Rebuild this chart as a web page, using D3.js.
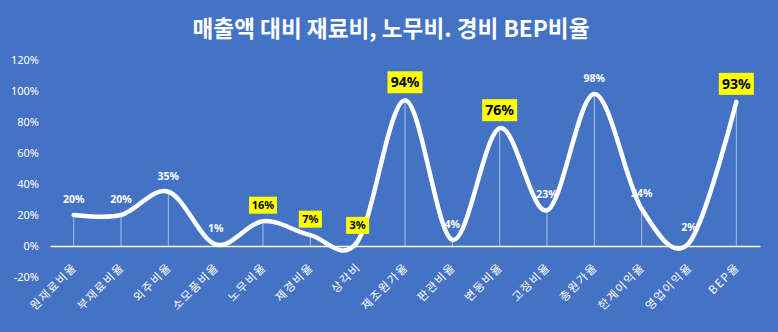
<!DOCTYPE html>
<html><head><meta charset="utf-8">
<script src="https://cdn.jsdelivr.net/npm/d3@7"></script>
<style>html,body{margin:0;padding:0;background:#4472C4;}svg{display:block;}</style>
</head><body>
<svg id="c" width="778" height="332"></svg>
<script>
const title = "매출액 대비 재료비, 노무비. 경비 BEP비율";
const categories = ["원재료비율","부재료비율","외주비율","소모품비율","노무비율","제경비율","상각비","제조원가율","판관비율","변동비율","고정비율","총원가율","한계이익율","영업이익율","BEP율"];
const values = [20, 20, 35, 1, 16, 7, 3, 94, 4, 76, 23, 98, 24, 2, 93];
const yTicks = [-20, 0, 20, 40, 60, 80, 100, 120];
const highlightSmall = ["노무비율","제경비율","상각비"];
const highlightBig = ["제조원가율","변동비율","BEP율"];

const W = 778, H = 332;
const svg = d3.select("#c");
svg.append("rect").attr("width", W).attr("height", H).attr("fill", "#4472C4");

const x = d3.scaleBand().domain(categories).range([50, 760]);
const y = d3.scaleLinear().domain([-20, 120]).range([277, 60]);
const cx = d => x(d) + x.bandwidth() / 2;

svg.append("text").attr("x", 391).attr("y", 37).attr("text-anchor", "middle")
  .attr("font-family", "'Noto Sans CJK KR', sans-serif").attr("font-weight", "bold")
  .attr("font-size", 23).attr("fill", "#fff")
  .attr("textLength", 397).attr("lengthAdjust", "spacingAndGlyphs").text(title);

const yAxis = d3.axisLeft(y).tickValues(yTicks).tickFormat(d => d + "%").tickSize(0).tickPadding(0);
const ya = svg.append("g").attr("transform", "translate(39,0)").call(yAxis);
ya.select(".domain").remove();
ya.selectAll("text").attr("fill", "#fff").attr("font-size", 11)
  .attr("font-family", "'Noto Sans', sans-serif");

svg.append("g").selectAll("line").data(categories).join("line")
  .attr("x1", d => cx(d)).attr("x2", d => cx(d))
  .attr("y1", y(0)).attr("y2", (d, i) => y(values[i]))
  .attr("stroke", "rgba(255,255,255,0.55)").attr("stroke-width", 1);

const xAxis = d3.axisBottom(x).tickSize(0).tickPadding(0);
const xa = svg.append("g").attr("transform", `translate(0,${y(0)})`).call(xAxis);
xa.select(".domain").attr("stroke", "#fff").attr("stroke-width", 1.5);
xa.selectAll("text").attr("fill", "#fff").attr("font-size", 11.5)
  .attr("font-family", "'Noto Sans CJK KR', sans-serif")
  .attr("letter-spacing", "1.5px")
  .attr("text-anchor", "end").attr("dy", 0)
  .attr("transform", "translate(4,22) rotate(-45)")
  .attr("y", 0).attr("x", 0);

const line = d3.line().x((d, i) => cx(categories[i])).y(d => y(d)).curve(d3.curveCardinal.tension(0));
svg.append("path").datum(values).attr("d", line).attr("fill", "none")
  .attr("stroke", "#fff").attr("stroke-width", 4.5).attr("stroke-linecap", "round");

const lg = svg.append("g");
categories.forEach((c, i) => {
  const px = cx(c), py = y(values[i]);
  const t = values[i] + "%";
  if (highlightBig.includes(c)) {
    const w = 35, h = 22;
    lg.append("rect").attr("x", px - w / 2).attr("y", py - 18 - h / 2).attr("width", w).attr("height", h).attr("fill", "#FFFF00");
    lg.append("text").attr("x", px).attr("y", py - 18).attr("dy", "0.36em").attr("text-anchor", "middle")
      .attr("font-family", "'Noto Sans', sans-serif").attr("font-weight", "bold").attr("font-size", 14).attr("fill", "#000").text(t);
  } else if (highlightSmall.includes(c)) {
    const w = t.length > 2 ? 28 : 23, h = 17;
    lg.append("rect").attr("x", px - w / 2).attr("y", py - 16 - h / 2).attr("width", w).attr("height", h).attr("fill", "#FFFF00");
    lg.append("text").attr("x", px).attr("y", py - 16).attr("dy", "0.36em").attr("text-anchor", "middle")
      .attr("font-family", "'Noto Sans', sans-serif").attr("font-weight", "bold").attr("font-size", 11).attr("fill", "#000").text(t);
  } else {
    lg.append("text").attr("x", px).attr("y", py - 16).attr("dy", "0.36em").attr("text-anchor", "middle")
      .attr("font-family", "'Noto Sans', sans-serif").attr("font-weight", "bold").attr("font-size", 10.5).attr("fill", "#fff").text(t);
  }
});
</script>
</body></html>
